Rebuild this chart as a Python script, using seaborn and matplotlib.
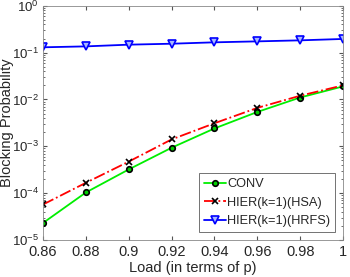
import numpy as np
import pandas as pd
import matplotlib
matplotlib.use("Agg")
import matplotlib.pyplot as plt
import seaborn as sns

load = [0.86, 0.88, 0.90, 0.92, 0.94, 0.96, 0.98, 1.00]
conv = [2.3e-5, 1.03e-4, 3.2e-4, 9.3e-4, 2.4e-3, 5.4e-3, 1.1e-2, 1.9e-2]
hsa = [5.7e-5, 1.66e-4, 4.7e-4, 1.4e-3, 3.1e-3, 6.6e-3, 1.2e-2, 2.0e-2]
hrfs = [0.13, 0.136, 0.148, 0.155, 0.166, 0.174, 0.183, 0.196]
labels = ["CONV", "HIER(k=1)(HSA)", "HIER(k=1)(HRFS)"]
yticks = [1e-5, 1e-4, 1e-3, 1e-2, 1e-1, 1]
ytick_labels = ["$10^{-5}$", "$10^{-4}$", "$10^{-3}$", "$10^{-2}$", "$10^{-1}$", "$10^{0}$"]

df = pd.DataFrame({
    "load": load * 3,
    "p": conv + hsa + hrfs,
    "scheme": [labels[0]] * 8 + [labels[1]] * 8 + [labels[2]] * 8,
})

sns.set_style("ticks")
plt.rcParams['font.family'] = ['Liberation Sans', 'DejaVu Sans']
plt.rcParams['font.size'] = 10.5
plt.rcParams['mathtext.fontset'] = 'custom'
plt.rcParams['mathtext.rm'] = 'Liberation Sans'
plt.rcParams['mathtext.it'] = 'Liberation Sans:italic'
plt.rcParams['mathtext.bf'] = 'Liberation Sans:bold'
plt.rcParams['mathtext.default'] = 'rm'

fig = plt.figure(figsize=(3.5, 2.77), dpi=100)
ax = fig.add_axes([0.123, 0.134, 0.857, 0.845])

styles = {
    labels[0]: dict(color="#00ee00", ls="-", marker="o", mec="black", mfc="#00cc00", ms=4),
    labels[1]: dict(color="red", ls="-.", marker="x", mec="black", mfc="none", ms=4.5),
    labels[2]: dict(color="blue", ls="-", marker="v", mec="blue", mfc="#a8b8ff", ms=5.5),
}
for lab in labels:
    sub = df[df.scheme == lab]
    st = styles[lab]
    sns.lineplot(data=sub, x="load", y="p", ax=ax, label=lab, color=st["color"],
                 linestyle=st["ls"], marker=st["marker"], markeredgecolor=st["mec"],
                 markerfacecolor=st["mfc"], markersize=st["ms"], markeredgewidth=1.2,
                 linewidth=1.3)

ax.set_yscale("log")
ax.set_xlim(0.86, 1.0)
ax.set_ylim(1e-5, 1)
ax.set_xticks(load)
ax.set_xticklabels(["0.86", "0.88", "0.9", "0.92", "0.94", "0.96", "0.98", "1"])
ax.set_yticks(yticks)
ax.set_yticklabels(ytick_labels, fontsize=9.5)
ax.set_xlabel("Load (in terms of p)", fontsize=10.5, labelpad=1)
ax.set_ylabel("Blocking Probability", fontsize=10.5)
ax.yaxis.set_label_coords(-0.098, 0.5)
ax.tick_params(direction="in", which="both", top=True, right=True,
               color="#555555")
ax.tick_params(axis="x", pad=4, labelsize=10.5)
ax.tick_params(axis="y", pad=3)
ax.tick_params(which="major", length=3)
ax.tick_params(which="minor", length=1.5)
for s in ax.spines.values():
    s.set_color("#888888")
    s.set_linewidth(0.6)

leg = ax.legend(loc="lower right", fontsize=9.2, frameon=True, fancybox=False,
                edgecolor="#333333", borderpad=0.4, handlelength=1.7,
                handletextpad=0.1, labelspacing=0.5, borderaxespad=0.6)
leg.get_frame().set_linewidth(0.6)

fig.savefig("out.png", dpi=100)
